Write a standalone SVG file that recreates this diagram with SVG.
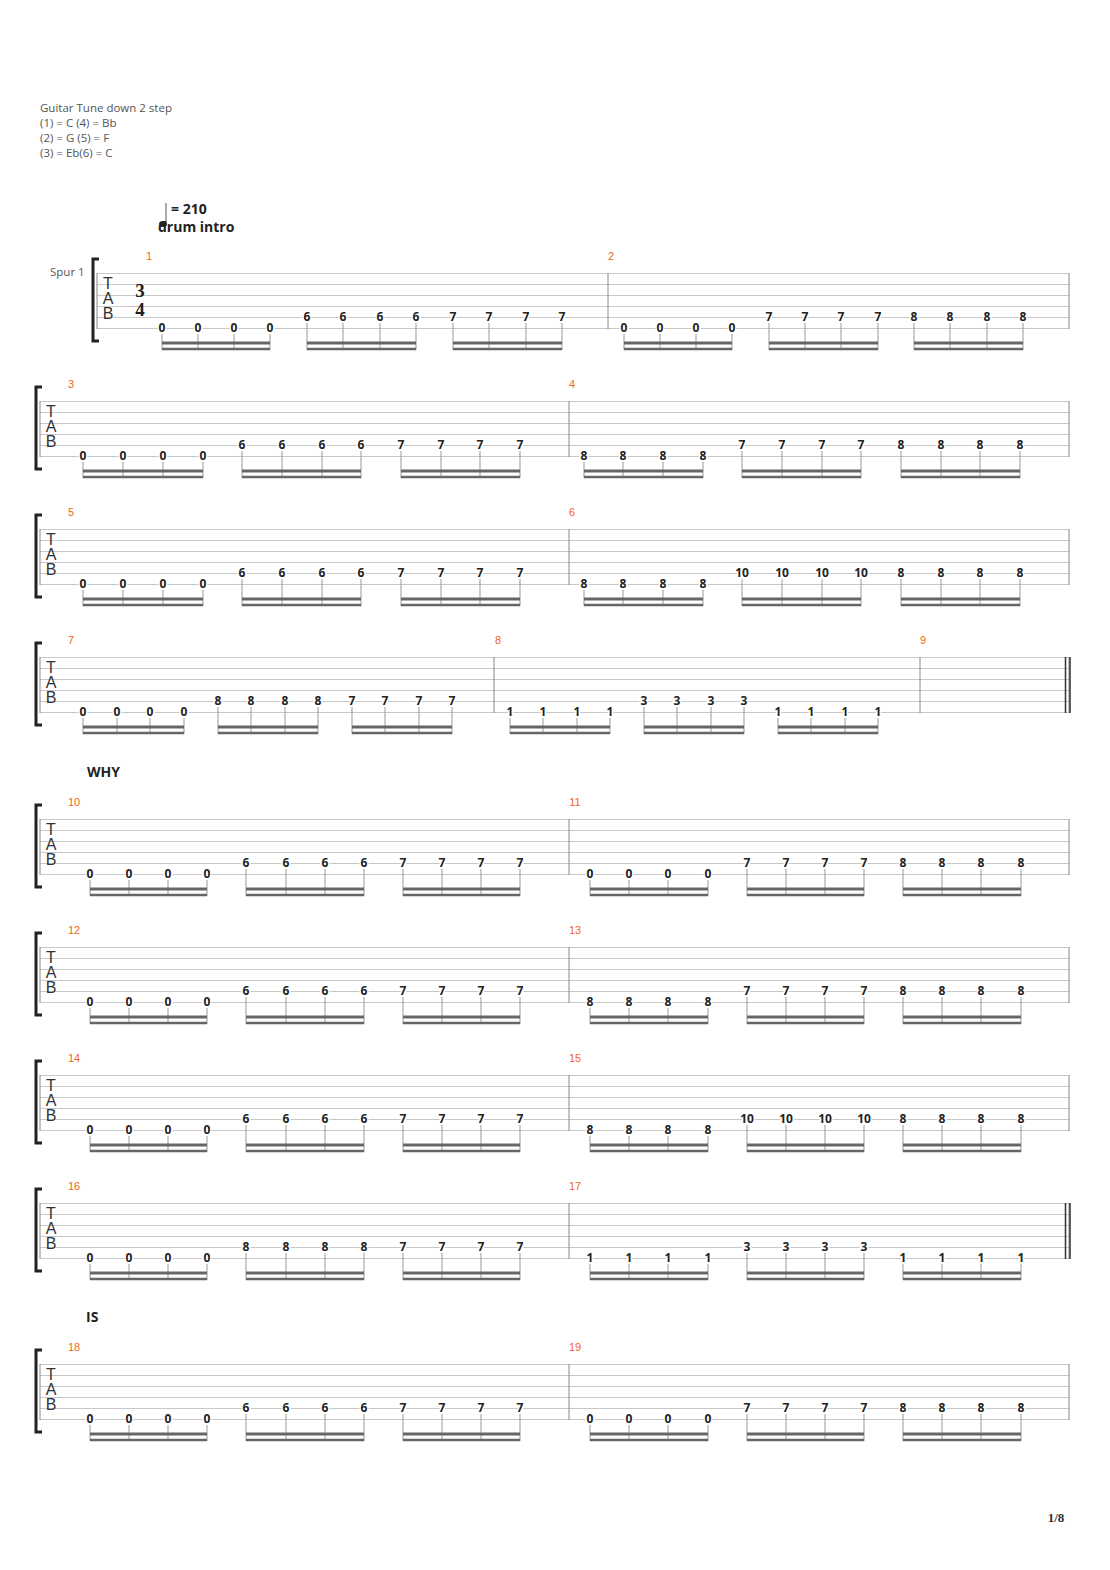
<svg xmlns="http://www.w3.org/2000/svg" width="1110" height="1570" viewBox="0 0 1110 1570">
<style>
.hd{font-family:"Open Sans","Liberation Sans",sans-serif;font-size:11.5px;fill:#555}
.n{font-family:"Open Sans","Liberation Sans",sans-serif;font-size:12px;font-weight:bold;fill:#222;text-anchor:middle;paint-order:stroke;stroke:#fff;stroke-width:3px}
.mn{font-family:"Liberation Sans",sans-serif;font-size:11px;fill:#f26522;text-anchor:middle}
.tab{font-family:"Liberation Sans",sans-serif;font-size:16px;fill:#333;text-anchor:middle}
.ts{font-family:"Liberation Serif",serif;font-weight:bold;font-size:19px;fill:#222;text-anchor:middle}
.lb{font-family:"Open Sans","Liberation Sans",sans-serif;font-size:14px;font-weight:bold;fill:#222}
.st{stroke:#999;stroke-width:1;fill:none}
.bm{stroke:#666;stroke-width:3;fill:none}
.bm2{stroke:#666;stroke-width:2.5;fill:none}
.sl{stroke:#c8c8c8;stroke-width:1}
.bar{stroke:#888;stroke-width:1}
.dbl{stroke:#333;stroke-width:1.5;fill:none}
.br{stroke:#222;stroke-width:3;fill:none}
</style>
<defs>
<g id="lines"><path class="sl" d="M40 0.5H1069M40 11.5H1069M40 22.5H1069M40 33.5H1069M40 44.5H1069M40 55.5H1069"/><path class="bar" d="M40 0V56M1069 0V56"/><path class="br" d="M42 -14H36V68H42"/><text class="tab" x="51" y="16">T</text><text class="tab" x="51" y="31">A</text><text class="tab" x="51" y="46">B</text></g>
</defs>
<text class="hd" x="40" y="112">Guitar Tune down 2 step</text>
<text class="hd" x="40" y="127">(1) = C (4) = Bb</text>
<text class="hd" x="40" y="142">(2) = G (5) = F</text>
<text class="hd" x="40" y="157">(3) = Eb(6) = C</text>
<g id="tempo"><line x1="166" y1="203" x2="166" y2="222" stroke="#555"/><ellipse cx="163" cy="224" rx="4" ry="3" fill="#222"/><text class="lb" x="171" y="214">= 210</text><text class="lb" x="158" y="232">drum intro</text></g>
<text class="hd" x="50" y="276">Spur 1</text>

<g id="sys1" transform="translate(0,273)">
<path class="sl" d="M97 0.5H1069M97 11.5H1069M97 22.5H1069M97 33.5H1069M97 44.5H1069M97 55.5H1069"/>
<path class="bar" d="M97 0V56M608 0V56M1069 0V56"/>
<path class="br" d="M99 -14H93V68H99"/>
<text class="tab" x="108" y="16">T</text><text class="tab" x="108" y="31">A</text><text class="tab" x="108" y="46">B</text>
<text class="ts" x="140" y="24">3</text>
<text class="ts" x="140" y="43">4</text>
<text class="mn" x="149" y="-13">1</text><text class="mn" x="611" y="-13">2</text>
<text class="n" x="162 198 234 270" y="59">0000</text><path class="st" d="M162 61V77M198 61V77M234 61V77M270 61V77"/><path class="bm" d="M162 70H270"/><path class="bm2" d="M162 76H270"/>
<text class="n" x="307 343 380 416" y="48">6666</text><path class="st" d="M307 50V77M343 50V77M380 50V77M416 50V77"/><path class="bm" d="M307 70H416"/><path class="bm2" d="M307 76H416"/>
<text class="n" x="453 489 526 562" y="48">7777</text><path class="st" d="M453 50V77M489 50V77M526 50V77M562 50V77"/><path class="bm" d="M453 70H562"/><path class="bm2" d="M453 76H562"/>
<text class="n" x="624 660 696 732" y="59">0000</text><path class="st" d="M624 61V77M660 61V77M696 61V77M732 61V77"/><path class="bm" d="M624 70H732"/><path class="bm2" d="M624 76H732"/>
<text class="n" x="769 805 841 878" y="48">7777</text><path class="st" d="M769 50V77M805 50V77M841 50V77M878 50V77"/><path class="bm" d="M769 70H878"/><path class="bm2" d="M769 76H878"/>
<text class="n" x="914 950 987 1023" y="48">8888</text><path class="st" d="M914 50V77M950 50V77M987 50V77M1023 50V77"/><path class="bm" d="M914 70H1023"/><path class="bm2" d="M914 76H1023"/>
</g>

<g id="sys2" transform="translate(0,401)">
<use href="#lines"/><path class="bar" d="M569 0V56"/>
<text class="mn" x="71" y="-13">3</text><text class="mn" x="572" y="-13">4</text>
<text class="n" x="83 123 163 203" y="59">0000</text><path class="st" d="M83 61V77M123 61V77M163 61V77M203 61V77"/><path class="bm" d="M83 70H203"/><path class="bm2" d="M83 76H203"/>
<text class="n" x="242 282 322 361" y="48">6666</text><path class="st" d="M242 50V77M282 50V77M322 50V77M361 50V77"/><path class="bm" d="M242 70H361"/><path class="bm2" d="M242 76H361"/>
<text class="n" x="401 441 480 520" y="48">7777</text><path class="st" d="M401 50V77M441 50V77M480 50V77M520 50V77"/><path class="bm" d="M401 70H520"/><path class="bm2" d="M401 76H520"/>
<text class="n" x="584 623 663 703" y="59">8888</text><path class="st" d="M584 61V77M623 61V77M663 61V77M703 61V77"/><path class="bm" d="M584 70H703"/><path class="bm2" d="M584 76H703"/>
<text class="n" x="742 782 822 861" y="48">7777</text><path class="st" d="M742 50V77M782 50V77M822 50V77M861 50V77"/><path class="bm" d="M742 70H861"/><path class="bm2" d="M742 76H861"/>
<text class="n" x="901 941 980 1020" y="48">8888</text><path class="st" d="M901 50V77M941 50V77M980 50V77M1020 50V77"/><path class="bm" d="M901 70H1020"/><path class="bm2" d="M901 76H1020"/>
</g>

<g id="sys3" transform="translate(0,529)">
<use href="#lines"/><path class="bar" d="M569 0V56"/>
<text class="mn" x="71" y="-13">5</text><text class="mn" x="572" y="-13">6</text>
<text class="n" x="83 123 163 203" y="59">0000</text><path class="st" d="M83 61V77M123 61V77M163 61V77M203 61V77"/><path class="bm" d="M83 70H203"/><path class="bm2" d="M83 76H203"/>
<text class="n" x="242 282 322 361" y="48">6666</text><path class="st" d="M242 50V77M282 50V77M322 50V77M361 50V77"/><path class="bm" d="M242 70H361"/><path class="bm2" d="M242 76H361"/>
<text class="n" x="401 441 480 520" y="48">7777</text><path class="st" d="M401 50V77M441 50V77M480 50V77M520 50V77"/><path class="bm" d="M401 70H520"/><path class="bm2" d="M401 76H520"/>
<text class="n" x="584 623 663 703" y="59">8888</text><path class="st" d="M584 61V77M623 61V77M663 61V77M703 61V77"/><path class="bm" d="M584 70H703"/><path class="bm2" d="M584 76H703"/>
<text class="n" x="742" y="48">10</text><text class="n" x="782" y="48">10</text><text class="n" x="822" y="48">10</text><text class="n" x="861" y="48">10</text><path class="st" d="M742 50V77M782 50V77M822 50V77M861 50V77"/><path class="bm" d="M742 70H861"/><path class="bm2" d="M742 76H861"/>
<text class="n" x="901 941 980 1020" y="48">8888</text><path class="st" d="M901 50V77M941 50V77M980 50V77M1020 50V77"/><path class="bm" d="M901 70H1020"/><path class="bm2" d="M901 76H1020"/>
</g>

<g id="sys4" transform="translate(0,657)">
<use href="#lines"/><path class="bar" d="M494 0V56M920 0V56"/><path class="dbl" d="M1065.5 0V56M1070 0V56"/>
<text class="mn" x="71" y="-13">7</text><text class="mn" x="498" y="-13">8</text><text class="mn" x="923" y="-13">9</text>
<text class="n" x="83 117 150 184" y="59">0000</text><path class="st" d="M83 61V77M117 61V77M150 61V77M184 61V77"/><path class="bm" d="M83 70H184"/><path class="bm2" d="M83 76H184"/>
<text class="n" x="218 251 285 318" y="48">8888</text><path class="st" d="M218 50V77M251 50V77M285 50V77M318 50V77"/><path class="bm" d="M218 70H318"/><path class="bm2" d="M218 76H318"/>
<text class="n" x="352 385 419 452" y="48">7777</text><path class="st" d="M352 50V77M385 50V77M419 50V77M452 50V77"/><path class="bm" d="M352 70H452"/><path class="bm2" d="M352 76H452"/>
<text class="n" x="510 543 577 610" y="59">1111</text><path class="st" d="M510 61V77M543 61V77M577 61V77M610 61V77"/><path class="bm" d="M510 70H610"/><path class="bm2" d="M510 76H610"/>
<text class="n" x="644 677 711 744" y="48">3333</text><path class="st" d="M644 50V77M677 50V77M711 50V77M744 50V77"/><path class="bm" d="M644 70H744"/><path class="bm2" d="M644 76H744"/>
<text class="n" x="778 811 845 878" y="59">1111</text><path class="st" d="M778 61V77M811 61V77M845 61V77M878 61V77"/><path class="bm" d="M778 70H878"/><path class="bm2" d="M778 76H878"/>
</g>

<text class="lb" x="87" y="777">WHY</text>

<g id="sys5" transform="translate(0,819)">
<use href="#lines"/><path class="bar" d="M569 0V56"/>
<text class="mn" x="74" y="-13">10</text><text class="mn" x="575" y="-13">11</text>
<text class="n" x="90 129 168 207" y="59">0000</text><path class="st" d="M90 61V77M129 61V77M168 61V77M207 61V77"/><path class="bm" d="M90 70H207"/><path class="bm2" d="M90 76H207"/>
<text class="n" x="246 286 325 364" y="48">6666</text><path class="st" d="M246 50V77M286 50V77M325 50V77M364 50V77"/><path class="bm" d="M246 70H364"/><path class="bm2" d="M246 76H364"/>
<text class="n" x="403 442 481 520" y="48">7777</text><path class="st" d="M403 50V77M442 50V77M481 50V77M520 50V77"/><path class="bm" d="M403 70H520"/><path class="bm2" d="M403 76H520"/>
<text class="n" x="590 629 668 708" y="59">0000</text><path class="st" d="M590 61V77M629 61V77M668 61V77M708 61V77"/><path class="bm" d="M590 70H708"/><path class="bm2" d="M590 76H708"/>
<text class="n" x="747 786 825 864" y="48">7777</text><path class="st" d="M747 50V77M786 50V77M825 50V77M864 50V77"/><path class="bm" d="M747 70H864"/><path class="bm2" d="M747 76H864"/>
<text class="n" x="903 942 981 1021" y="48">8888</text><path class="st" d="M903 50V77M942 50V77M981 50V77M1021 50V77"/><path class="bm" d="M903 70H1021"/><path class="bm2" d="M903 76H1021"/>
</g>

<g id="sys6" transform="translate(0,947)">
<use href="#lines"/><path class="bar" d="M569 0V56"/>
<text class="mn" x="74" y="-13">12</text><text class="mn" x="575" y="-13">13</text>
<text class="n" x="90 129 168 207" y="59">0000</text><path class="st" d="M90 61V77M129 61V77M168 61V77M207 61V77"/><path class="bm" d="M90 70H207"/><path class="bm2" d="M90 76H207"/>
<text class="n" x="246 286 325 364" y="48">6666</text><path class="st" d="M246 50V77M286 50V77M325 50V77M364 50V77"/><path class="bm" d="M246 70H364"/><path class="bm2" d="M246 76H364"/>
<text class="n" x="403 442 481 520" y="48">7777</text><path class="st" d="M403 50V77M442 50V77M481 50V77M520 50V77"/><path class="bm" d="M403 70H520"/><path class="bm2" d="M403 76H520"/>
<text class="n" x="590 629 668 708" y="59">8888</text><path class="st" d="M590 61V77M629 61V77M668 61V77M708 61V77"/><path class="bm" d="M590 70H708"/><path class="bm2" d="M590 76H708"/>
<text class="n" x="747 786 825 864" y="48">7777</text><path class="st" d="M747 50V77M786 50V77M825 50V77M864 50V77"/><path class="bm" d="M747 70H864"/><path class="bm2" d="M747 76H864"/>
<text class="n" x="903 942 981 1021" y="48">8888</text><path class="st" d="M903 50V77M942 50V77M981 50V77M1021 50V77"/><path class="bm" d="M903 70H1021"/><path class="bm2" d="M903 76H1021"/>
</g>

<g id="sys7" transform="translate(0,1075)">
<use href="#lines"/><path class="bar" d="M569 0V56"/>
<text class="mn" x="74" y="-13">14</text><text class="mn" x="575" y="-13">15</text>
<text class="n" x="90 129 168 207" y="59">0000</text><path class="st" d="M90 61V77M129 61V77M168 61V77M207 61V77"/><path class="bm" d="M90 70H207"/><path class="bm2" d="M90 76H207"/>
<text class="n" x="246 286 325 364" y="48">6666</text><path class="st" d="M246 50V77M286 50V77M325 50V77M364 50V77"/><path class="bm" d="M246 70H364"/><path class="bm2" d="M246 76H364"/>
<text class="n" x="403 442 481 520" y="48">7777</text><path class="st" d="M403 50V77M442 50V77M481 50V77M520 50V77"/><path class="bm" d="M403 70H520"/><path class="bm2" d="M403 76H520"/>
<text class="n" x="590 629 668 708" y="59">8888</text><path class="st" d="M590 61V77M629 61V77M668 61V77M708 61V77"/><path class="bm" d="M590 70H708"/><path class="bm2" d="M590 76H708"/>
<text class="n" x="747" y="48">10</text><text class="n" x="786" y="48">10</text><text class="n" x="825" y="48">10</text><text class="n" x="864" y="48">10</text><path class="st" d="M747 50V77M786 50V77M825 50V77M864 50V77"/><path class="bm" d="M747 70H864"/><path class="bm2" d="M747 76H864"/>
<text class="n" x="903 942 981 1021" y="48">8888</text><path class="st" d="M903 50V77M942 50V77M981 50V77M1021 50V77"/><path class="bm" d="M903 70H1021"/><path class="bm2" d="M903 76H1021"/>
</g>

<g id="sys8" transform="translate(0,1203)">
<use href="#lines"/><path class="bar" d="M569 0V56"/><path class="dbl" d="M1065.5 0V56M1070 0V56"/>
<text class="mn" x="74" y="-13">16</text><text class="mn" x="575" y="-13">17</text>
<text class="n" x="90 129 168 207" y="59">0000</text><path class="st" d="M90 61V77M129 61V77M168 61V77M207 61V77"/><path class="bm" d="M90 70H207"/><path class="bm2" d="M90 76H207"/>
<text class="n" x="246 286 325 364" y="48">8888</text><path class="st" d="M246 50V77M286 50V77M325 50V77M364 50V77"/><path class="bm" d="M246 70H364"/><path class="bm2" d="M246 76H364"/>
<text class="n" x="403 442 481 520" y="48">7777</text><path class="st" d="M403 50V77M442 50V77M481 50V77M520 50V77"/><path class="bm" d="M403 70H520"/><path class="bm2" d="M403 76H520"/>
<text class="n" x="590 629 668 708" y="59">1111</text><path class="st" d="M590 61V77M629 61V77M668 61V77M708 61V77"/><path class="bm" d="M590 70H708"/><path class="bm2" d="M590 76H708"/>
<text class="n" x="747 786 825 864" y="48">3333</text><path class="st" d="M747 50V77M786 50V77M825 50V77M864 50V77"/><path class="bm" d="M747 70H864"/><path class="bm2" d="M747 76H864"/>
<text class="n" x="903 942 981 1021" y="59">1111</text><path class="st" d="M903 61V77M942 61V77M981 61V77M1021 61V77"/><path class="bm" d="M903 70H1021"/><path class="bm2" d="M903 76H1021"/>
</g>

<text class="lb" x="86" y="1322">IS</text>

<g id="sys9" transform="translate(0,1364)">
<use href="#lines"/><path class="bar" d="M569 0V56"/>
<text class="mn" x="74" y="-13">18</text><text class="mn" x="575" y="-13">19</text>
<text class="n" x="90 129 168 207" y="59">0000</text><path class="st" d="M90 61V77M129 61V77M168 61V77M207 61V77"/><path class="bm" d="M90 70H207"/><path class="bm2" d="M90 76H207"/>
<text class="n" x="246 286 325 364" y="48">6666</text><path class="st" d="M246 50V77M286 50V77M325 50V77M364 50V77"/><path class="bm" d="M246 70H364"/><path class="bm2" d="M246 76H364"/>
<text class="n" x="403 442 481 520" y="48">7777</text><path class="st" d="M403 50V77M442 50V77M481 50V77M520 50V77"/><path class="bm" d="M403 70H520"/><path class="bm2" d="M403 76H520"/>
<text class="n" x="590 629 668 708" y="59">0000</text><path class="st" d="M590 61V77M629 61V77M668 61V77M708 61V77"/><path class="bm" d="M590 70H708"/><path class="bm2" d="M590 76H708"/>
<text class="n" x="747 786 825 864" y="48">7777</text><path class="st" d="M747 50V77M786 50V77M825 50V77M864 50V77"/><path class="bm" d="M747 70H864"/><path class="bm2" d="M747 76H864"/>
<text class="n" x="903 942 981 1021" y="48">8888</text><path class="st" d="M903 50V77M942 50V77M981 50V77M1021 50V77"/><path class="bm" d="M903 70H1021"/><path class="bm2" d="M903 76H1021"/>
</g>

<text x="1056" y="1522" font-family="Liberation Serif,serif" font-size="13" font-weight="bold" fill="#333" text-anchor="middle">1/8</text>
</svg>
